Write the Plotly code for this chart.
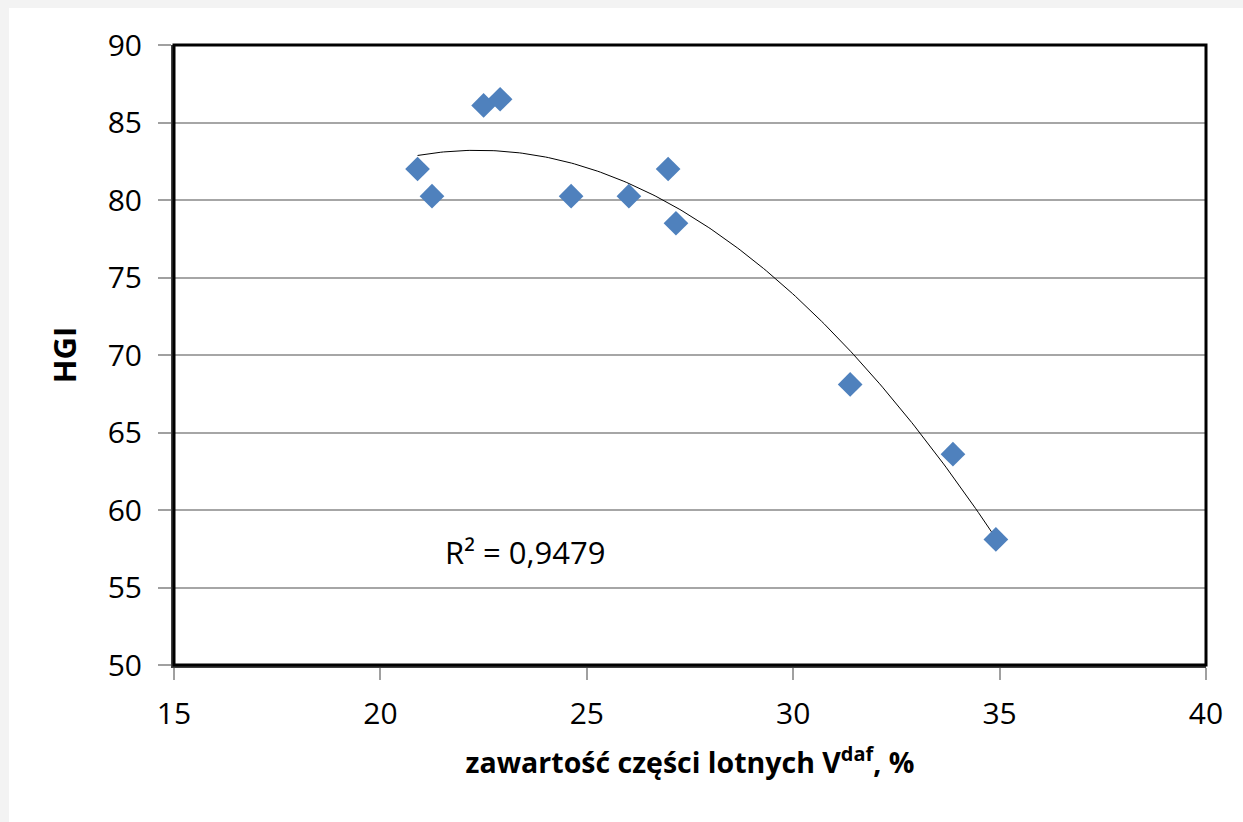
import numpy as np
import plotly.graph_objects as go

# data
vdaf = [20.9, 21.25, 22.5, 22.9, 24.62, 26.02, 26.97, 27.16, 31.38, 33.87, 34.91]
hgi = [82.0, 80.25, 86.1, 86.5, 80.25, 80.25, 82.0, 78.5, 68.1, 63.6, 58.1]
x_ticks = [15, 20, 25, 30, 35, 40]
y_ticks = [50, 55, 60, 65, 70, 75, 80, 85, 90]
r2_text = "R² = 0,9479"

W, H = 1243, 822
L, R, T, B = 174, 37, 45, 157
pw, ph = W - L - R, H - T - B

coef = np.polyfit(vdaf, hgi, 2)
xs = np.linspace(min(vdaf), max(vdaf), 200)
ys = np.polyval(coef, xs)

font = "Open Sans"
fig = go.Figure()
fig.add_trace(go.Scatter(x=xs, y=ys, mode="lines",
                         line=dict(color="black", width=1), hoverinfo="skip"))
fig.add_trace(go.Scatter(x=vdaf, y=hgi, mode="markers",
                         marker=dict(symbol="diamond", size=19, color="#4f81bd",
                                     line=dict(width=0))))

fig.update_layout(
    width=W, height=H,
    margin=dict(l=L, r=R, t=T, b=B),
    paper_bgcolor="#f3f3f3",
    plot_bgcolor="white",
    showlegend=False,
    font=dict(family=font, size=30, color="black"),
    xaxis=dict(range=[15, 40], tickvals=x_ticks, showgrid=False, zeroline=False,
               showline=True, linecolor="#404040", linewidth=3,
               ticks="outside", ticklen=12, tickcolor="#a0a0a0", tickwidth=2,
               tickfont=dict(size=30), ticklabelstandoff=8,
               title=dict(text="<b>zawartość części lotnych V<sup>daf</sup>, %</b>",
                          font=dict(size=28.5), standoff=22)),
    yaxis=dict(range=[50, 90], tickvals=y_ticks, showgrid=True, gridcolor="#a6a6a6",
               gridwidth=2, zeroline=False,
               showline=True, linecolor="#404040", linewidth=3,
               ticks="outside", ticklen=13, tickcolor="#a0a0a0", tickwidth=2,
               tickfont=dict(size=30), ticklabelstandoff=10,
               title=dict(text="<b>HGI</b>", font=dict(size=31), standoff=22)),
)

# white card over light gray page edge
fig.add_shape(type="rect", xref="paper", yref="paper",
              x0=(9 - L) / pw, x1=(W - L) / pw,
              y0=(H - B - H) / ph, y1=(H - B - 8) / ph,
              fillcolor="white", line=dict(width=0), layer="below")
# plot frame
fig.add_shape(type="rect", xref="paper", yref="paper", x0=0, x1=1, y0=0, y1=1,
              line=dict(color="black", width=3), layer="above")

fig.add_annotation(x=23.5, y=57.3, text=r2_text, showarrow=False,
                   font=dict(size=31, color="black"))

fig.write_html("out.html")
